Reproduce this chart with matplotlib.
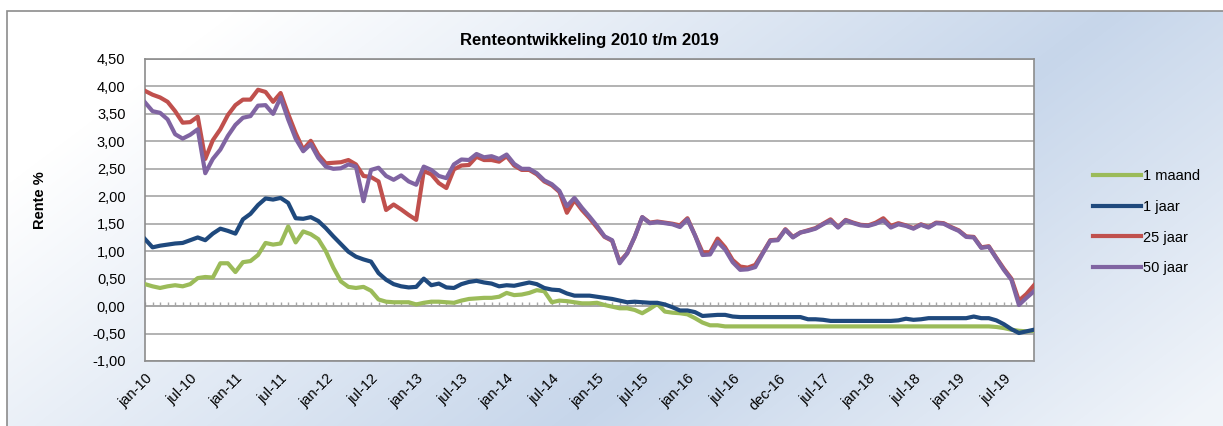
## Renteontwikkeling 2010 t/m 2019 - line chart in the style of an Excel export
import numpy as np
import matplotlib
matplotlib.use('Agg')
import matplotlib.pyplot as plt
from matplotlib.patches import Rectangle
from matplotlib.transforms import ScaledTranslation

plt.rcParams['font.family'] = ['Liberation Sans', 'DejaVu Sans']

## Data (one value per month):
tick_labels = ['jan-10', 'jul-10', 'jan-11', 'jul-11', 'jan-12', 'jul-12', 'jan-13', 'jul-13',
               'jan-14', 'jul-14', 'jan-15', 'jul-15', 'jan-16', 'jul-16', 'dec-16', 'jul-17',
               'jan-18', 'jul-18', 'jan-19', 'jul-19']

maand_1 = [0.40, 0.36, 0.33, 0.36, 0.38, 0.36, 0.40, 0.51, 0.53, 0.52,
           0.78, 0.78, 0.62, 0.80, 0.82, 0.93, 1.15, 1.12, 1.14, 1.45,
           1.16, 1.36, 1.31, 1.22, 1.00, 0.70, 0.45, 0.35, 0.33, 0.35,
           0.28, 0.12, 0.08, 0.07, 0.07, 0.07, 0.03, 0.06, 0.08, 0.08,
           0.07, 0.06, 0.10, 0.13, 0.14, 0.15, 0.15, 0.17, 0.24, 0.20,
           0.21, 0.24, 0.29, 0.27, 0.07, 0.10, 0.09, 0.07, 0.05, 0.05,
           0.06, 0.02, -0.01, -0.04, -0.04, -0.07, -0.13, -0.05, 0.04, -0.10,
           -0.12, -0.13, -0.15, -0.22, -0.30, -0.35, -0.35, -0.37, -0.37, -0.37,
           -0.37, -0.37, -0.37, -0.37, -0.37, -0.37, -0.37, -0.37, -0.37, -0.37,
           -0.37, -0.37, -0.37, -0.37, -0.37, -0.37, -0.37, -0.37, -0.37, -0.37,
           -0.37, -0.37, -0.37, -0.37, -0.37, -0.37, -0.37, -0.37, -0.37, -0.37,
           -0.37, -0.37, -0.37, -0.38, -0.40, -0.43, -0.45, -0.46, -0.45]

jaar_1 = [1.22, 1.07, 1.10, 1.12, 1.14, 1.15, 1.20, 1.25, 1.20, 1.32,
          1.41, 1.37, 1.32, 1.58, 1.68, 1.84, 1.96, 1.94, 1.97, 1.88,
          1.60, 1.59, 1.62, 1.55, 1.42, 1.27, 1.13, 0.99, 0.90, 0.85,
          0.81, 0.60, 0.48, 0.40, 0.36, 0.34, 0.35, 0.50, 0.38, 0.41,
          0.34, 0.33, 0.40, 0.44, 0.46, 0.43, 0.41, 0.36, 0.38, 0.37,
          0.40, 0.43, 0.40, 0.33, 0.30, 0.29, 0.23, 0.19, 0.19, 0.19,
          0.17, 0.15, 0.13, 0.10, 0.07, 0.08, 0.07, 0.06, 0.06, 0.03,
          -0.02, -0.08, -0.08, -0.11, -0.18, -0.17, -0.16, -0.16, -0.19, -0.20,
          -0.20, -0.20, -0.20, -0.20, -0.20, -0.20, -0.20, -0.20, -0.24, -0.24,
          -0.25, -0.27, -0.27, -0.27, -0.27, -0.27, -0.27, -0.27, -0.27, -0.27,
          -0.26, -0.23, -0.25, -0.24, -0.22, -0.22, -0.22, -0.22, -0.22, -0.22,
          -0.19, -0.22, -0.22, -0.26, -0.33, -0.42, -0.49, -0.46, -0.43]

jaar_25 = [3.92, 3.85, 3.80, 3.72, 3.55, 3.34, 3.35, 3.45, 2.68, 3.02,
           3.22, 3.48, 3.66, 3.76, 3.76, 3.94, 3.90, 3.72, 3.88, 3.50,
           3.15, 2.85, 3.01, 2.76, 2.60, 2.61, 2.62, 2.66, 2.58, 2.37,
           2.35, 2.27, 1.75, 1.85, 1.76, 1.66, 1.57, 2.46, 2.40, 2.24,
           2.15, 2.49, 2.56, 2.57, 2.72, 2.66, 2.66, 2.63, 2.73, 2.56,
           2.48, 2.48, 2.40, 2.27, 2.20, 2.08, 1.70, 1.93, 1.75, 1.60,
           1.43, 1.26, 1.19, 0.81, 0.96, 1.26, 1.62, 1.52, 1.54, 1.52,
           1.50, 1.47, 1.60, 1.29, 0.98, 0.98, 1.23, 1.07, 0.84, 0.72,
           0.70, 0.75, 0.97, 1.20, 1.21, 1.40, 1.26, 1.34, 1.38, 1.42,
           1.50, 1.58, 1.44, 1.57, 1.52, 1.48, 1.47, 1.52, 1.60, 1.46,
           1.51, 1.47, 1.42, 1.49, 1.44, 1.52, 1.51, 1.44, 1.38, 1.27,
           1.26, 1.07, 1.09, 0.88, 0.68, 0.50, 0.10, 0.22, 0.38]

jaar_50 = [3.71, 3.55, 3.52, 3.40, 3.13, 3.05, 3.12, 3.22, 2.42, 2.68,
           2.85, 3.10, 3.30, 3.43, 3.46, 3.65, 3.66, 3.50, 3.80, 3.40,
           3.05, 2.82, 2.95, 2.70, 2.54, 2.50, 2.51, 2.58, 2.54, 1.91,
           2.48, 2.52, 2.37, 2.30, 2.38, 2.27, 2.21, 2.54, 2.48, 2.37,
           2.33, 2.58, 2.67, 2.66, 2.77, 2.71, 2.73, 2.68, 2.76, 2.59,
           2.50, 2.50, 2.42, 2.29, 2.22, 2.10, 1.82, 1.97, 1.79, 1.63,
           1.46, 1.27, 1.20, 0.78, 0.96, 1.26, 1.62, 1.51, 1.53, 1.51,
           1.49, 1.44, 1.58, 1.29, 0.93, 0.94, 1.17, 1.03, 0.80, 0.66,
           0.67, 0.71, 0.96, 1.19, 1.20, 1.39, 1.25, 1.34, 1.37, 1.41,
           1.49, 1.56, 1.43, 1.56, 1.51, 1.47, 1.46, 1.50, 1.56, 1.43,
           1.49, 1.46, 1.41, 1.48, 1.43, 1.51, 1.50, 1.43, 1.37, 1.26,
           1.25, 1.06, 1.08, 0.87, 0.66, 0.48, 0.02, 0.15, 0.27]

series_names = ['1 maand', '1 jaar', '25 jaar', '50 jaar']
series_colors = ['#9BBB59', '#1F497D', '#C0504D', '#8064A2']

## Figure:
W, H = 1223, 426
fig = plt.figure(figsize=(W / 100, H / 100), dpi=100)

## Background gradient (white -> light blue band -> white), outside frame white:
xx, yy = np.meshgrid(np.arange(W), np.arange(H))
s = xx + 1.32 * yy
f = np.interp(s, [250, 1130, 1750], [0.0, 1.0, 0.25])
blue = np.array([0.78, 0.84, 0.92])
img = 1 - f[..., None] * (1 - blue)
img[(xx < 7) | (yy < 11)] = 1.0
bg = fig.add_axes([0, 0, 1, 1], zorder=-10)
bg.imshow(img, aspect='auto', extent=[0, 1, 0, 1], origin='upper')
bg.axis('off')

fig.add_artist(Rectangle((7 / W, -0.1), 1.2, 1.1 - 11 / H, transform=fig.transFigure,
                         fill=False, edgecolor='#8c8c8c', linewidth=1.2))

## Plot area:
left, right, top, bottom = 145, 1034, 59, 361
ax = fig.add_axes([left / W, (H - bottom) / H, (right - left) / W, (bottom - top) / H])
ax.set_facecolor('white')

x = np.arange(len(maand_1))
for vals, name, col in zip([maand_1, jaar_1, jaar_25, jaar_50], series_names, series_colors):
    ax.plot(x, vals, color=col, linewidth=3, label=name, solid_joinstyle='round', zorder=3)

ax.set_xlim(0, len(maand_1) - 1)
ax.set_ylim(-1, 4.5)

yticks = np.arange(-1.0, 4.51, 0.5)
ax.set_yticks(yticks)
ax.set_yticklabels([f'{v:.2f}'.replace('.', ',') for v in yticks], fontsize=10.5)
ax.tick_params(axis='y', length=0, pad=14)
ax.grid(axis='y', color='#a6a6a6', linewidth=1.2, zorder=1)
ax.set_axisbelow(True)

## Category axis line at 0 with small tick marks:
ax.axhline(0, color='#a6a6a6', linewidth=1.2, zorder=2)
ax.vlines(x, 0, 0.08, color='#a6a6a6', linewidth=1, zorder=2)

xt = np.arange(0, 6 * len(tick_labels), 6)
ax.set_xticks(xt)
ax.set_xticklabels(tick_labels, fontsize=10.5, rotation=45, ha='right', va='center',
                   rotation_mode='anchor')
ax.tick_params(axis='x', length=0, pad=11)
offset = ScaledTranslation(5 / 100, 0, fig.dpi_scale_trans)
for lab in ax.get_xticklabels():
    lab.set_transform(lab.get_transform() + offset)

for sp in ax.spines.values():
    sp.set_color('#8c8c8c')
    sp.set_linewidth(1.2)

## Title and axis title:
fig.text(589.5 / W, 1 - 40 / H, 'Renteontwikkeling 2010 t/m 2019', ha='center', va='center',
         fontsize=12, fontweight='bold')
fig.text(40 / W, 1 - 200 / H, 'Rente %', rotation=90, ha='center', va='center',
         fontsize=10.5, fontweight='bold')

## Legend:
fig.legend(loc='upper left', bbox_to_anchor=(1093 / W, 1 - 169 / H), frameon=False,
           fontsize=10.5, handlelength=3.3, handletextpad=0.1, labelspacing=1.15,
           borderpad=0, borderaxespad=0)

fig.savefig('out.png', dpi=100)
